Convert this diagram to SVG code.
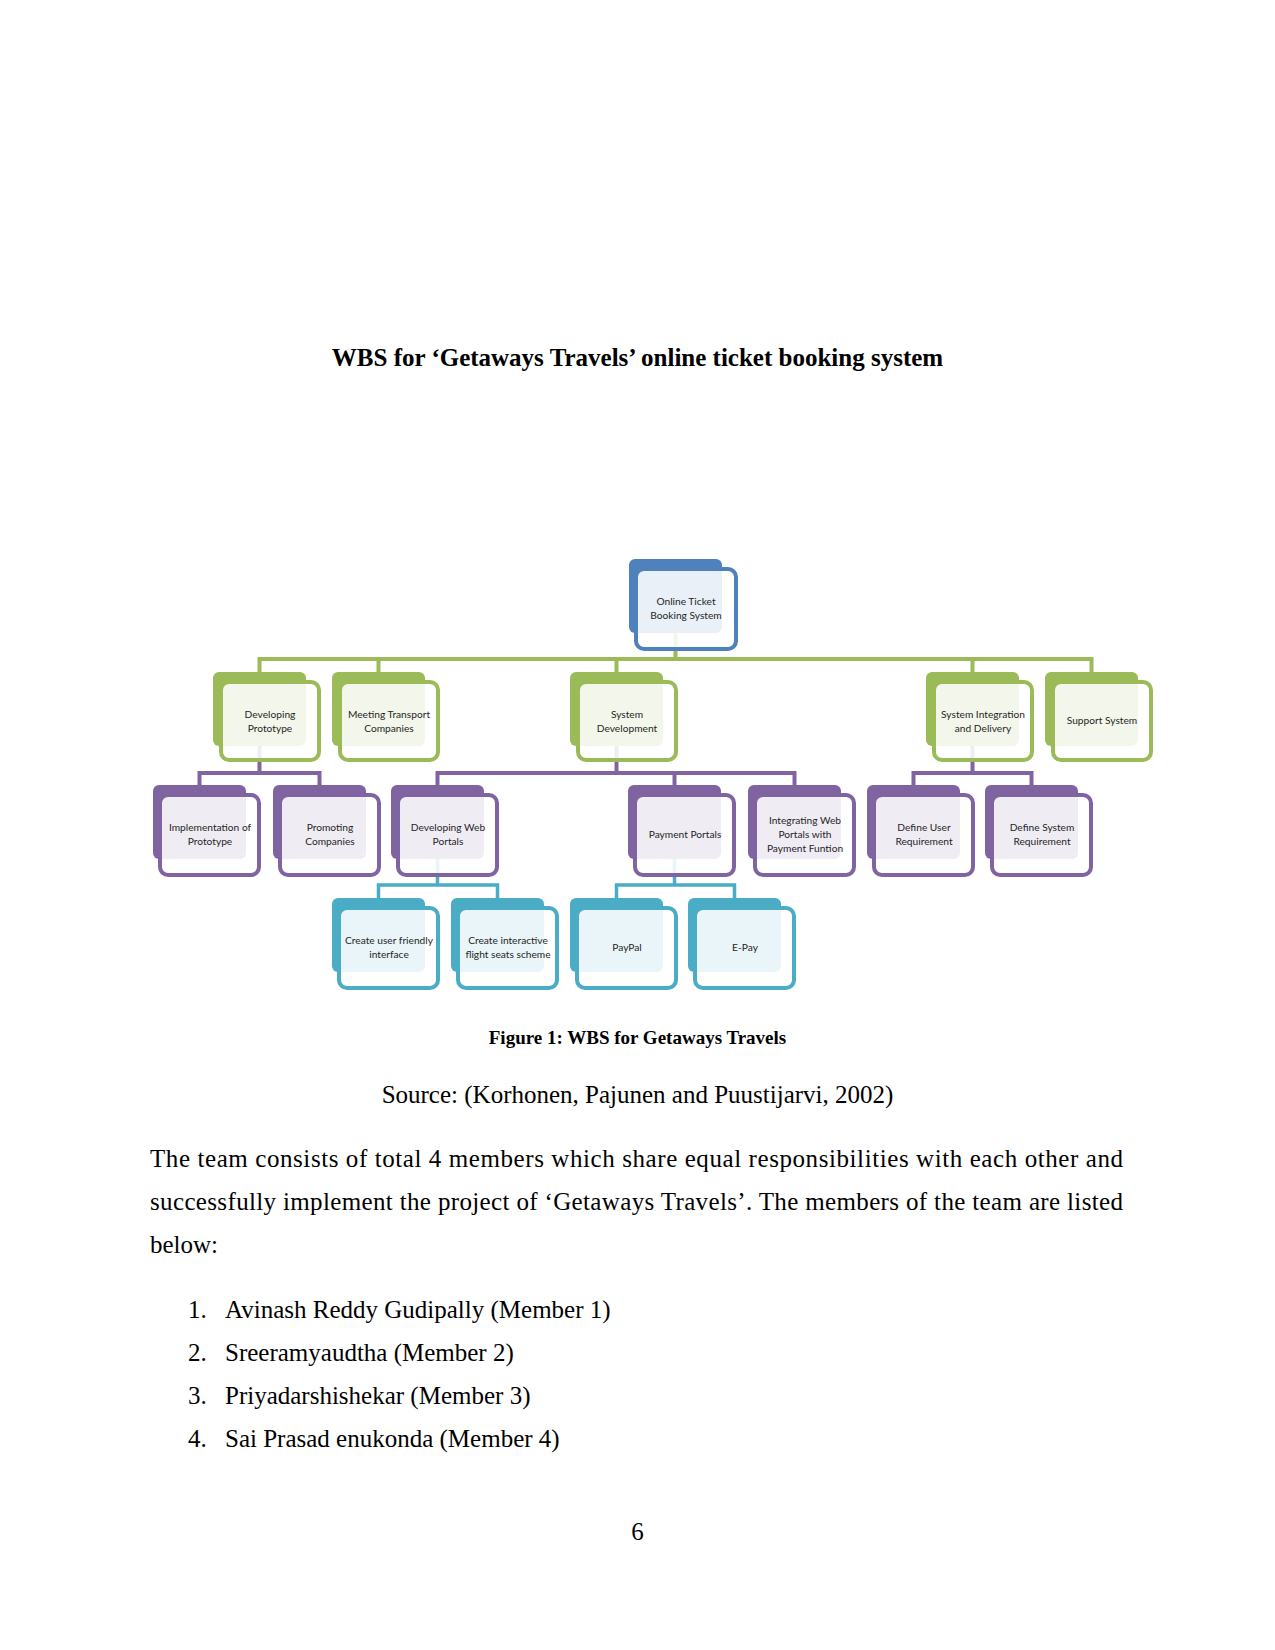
<svg xmlns="http://www.w3.org/2000/svg" width="1275" height="1650" viewBox="0 0 1275 1650">
<style>
.serif{font-family:"Liberation Serif","Times New Roman",serif;fill:#000}
.title{font-size:25px;font-weight:bold;text-anchor:middle}
.cap{font-size:19px;font-weight:bold;text-anchor:middle}
.body{font-size:25px}
.nt{font-family:Lato,"Open Sans",sans-serif;font-size:10.2px;fill:#1f1f1f;text-anchor:middle}
.fr{fill:#fff;fill-opacity:0.88;stroke-width:4}
.blue .bk{fill:#4f81bd}.blue .fr{stroke:#4f81bd}
.green .bk{fill:#9bbb59}.green .fr{stroke:#9bbb59}
.purple .bk{fill:#8064a2}.purple .fr{stroke:#8064a2}
.teal .bk{fill:#4bacc6}.teal .fr{stroke:#4bacc6}
.c{fill:none;stroke-width:4;stroke-linejoin:miter}
.cg{stroke:#9bbb59}.cp{stroke:#8064a2}.ct{stroke:#4bacc6;stroke-width:3.5}
</style>
<rect width="1275" height="1650" fill="#fff"/>
<text class="serif title" x="637.5" y="366">WBS for ‘Getaways Travels’ online ticket booking system</text>

<g id="connectors">
<path class="c cg" d="M675.5 600V659M259.5 672V659H1091.5V672M378.5 659V672M616.5 659V672M972.5 659V672"/>
<path class="c cp" d="M259.5 720V773M199.5 785V773H319.5V785"/>
<path class="c cp" d="M616.5 720V773M437.5 785V773H794.5V785M674.5 773V785"/>
<path class="c cp" d="M972.5 720V773M913.5 785V773H1031.5V785"/>
<path class="c ct" d="M437.5 840V885M378.5 898V885H497.5V898"/>
<path class="c ct" d="M674.5 840V885M616.5 898V885H734.5V898"/>
</g>

<g id="n-root" class="blue" transform="translate(629,559)"><rect class="bk" width="93" height="74" rx="6"/><rect class="fr" x="7" y="10" width="100" height="80" rx="8"/><text class="nt" x="57"><tspan x="57" y="46">Online Ticket</tspan><tspan x="57" y="60">Booking System</tspan></text></g>

<g id="n-devproto" class="green" transform="translate(213,672)"><rect class="bk" width="93" height="74" rx="6"/><rect class="fr" x="8" y="10" width="98" height="78" rx="8"/><text class="nt"><tspan x="57" y="45.5">Developing</tspan><tspan x="57" y="59.5">Prototype</tspan></text></g>
<g id="n-meeting" class="green" transform="translate(332,672)"><rect class="bk" width="93" height="74" rx="6"/><rect class="fr" x="8" y="10" width="98" height="78" rx="8"/><text class="nt"><tspan x="57" y="45.5">Meeting Transport</tspan><tspan x="57" y="59.5">Companies</tspan></text></g>
<g id="n-sysdev" class="green" transform="translate(570,672)"><rect class="bk" width="93" height="74" rx="6"/><rect class="fr" x="8" y="10" width="98" height="78" rx="8"/><text class="nt"><tspan x="57" y="45.5">System</tspan><tspan x="57" y="59.5">Development</tspan></text></g>
<g id="n-sysint" class="green" transform="translate(926,672)"><rect class="bk" width="93" height="74" rx="6"/><rect class="fr" x="8" y="10" width="98" height="78" rx="8"/><text class="nt"><tspan x="57" y="45.5">System Integration</tspan><tspan x="57" y="59.5">and Delivery</tspan></text></g>
<g id="n-support" class="green" transform="translate(1045,672)"><rect class="bk" width="93" height="74" rx="6"/><rect class="fr" x="8" y="10" width="98" height="78" rx="8"/><text class="nt" x="57" y="52">Support System</text></g>

<g id="n-impl" class="purple" transform="translate(153,785)"><rect class="bk" width="93" height="74" rx="6"/><rect class="fr" x="7" y="10" width="99" height="80" rx="8"/><text class="nt"><tspan x="57" y="45.5">Implementation of</tspan><tspan x="57" y="59.5">Prototype</tspan></text></g>
<g id="n-promoting" class="purple" transform="translate(273,785)"><rect class="bk" width="93" height="74" rx="6"/><rect class="fr" x="7" y="10" width="99" height="80" rx="8"/><text class="nt"><tspan x="57" y="45.5">Promoting</tspan><tspan x="57" y="59.5">Companies</tspan></text></g>
<g id="n-devweb" class="purple" transform="translate(391,785)"><rect class="bk" width="93" height="74" rx="6"/><rect class="fr" x="7" y="10" width="99" height="80" rx="8"/><text class="nt"><tspan x="57" y="45.5">Developing Web</tspan><tspan x="57" y="59.5">Portals</tspan></text></g>
<g id="n-payment" class="purple" transform="translate(628,785)"><rect class="bk" width="93" height="74" rx="6"/><rect class="fr" x="7" y="10" width="99" height="80" rx="8"/><text class="nt" x="57" y="52.5">Payment Portals</text></g>
<g id="n-integrating" class="purple" transform="translate(748,785)"><rect class="bk" width="93" height="74" rx="6"/><rect class="fr" x="7" y="10" width="99" height="80" rx="8"/><text class="nt"><tspan x="57" y="38.5">Integrating Web</tspan><tspan x="57" y="52.5">Portals with</tspan><tspan x="57" y="66.5">Payment Funtion</tspan></text></g>
<g id="n-defuser" class="purple" transform="translate(867,785)"><rect class="bk" width="93" height="74" rx="6"/><rect class="fr" x="7" y="10" width="99" height="80" rx="8"/><text class="nt"><tspan x="57" y="45.5">Define User</tspan><tspan x="57" y="59.5">Requirement</tspan></text></g>
<g id="n-defsys" class="purple" transform="translate(985,785)"><rect class="bk" width="93" height="74" rx="6"/><rect class="fr" x="7" y="10" width="99" height="80" rx="8"/><text class="nt"><tspan x="57" y="45.5">Define System</tspan><tspan x="57" y="59.5">Requirement</tspan></text></g>

<g id="n-createuser" class="teal" transform="translate(332,898)"><rect class="bk" width="93" height="74" rx="6"/><rect class="fr" x="7" y="10" width="99" height="80" rx="8"/><text class="nt"><tspan x="57" y="45.5">Create user friendly</tspan><tspan x="57" y="59.5">interface</tspan></text></g>
<g id="n-createinter" class="teal" transform="translate(451,898)"><rect class="bk" width="93" height="74" rx="6"/><rect class="fr" x="7" y="10" width="99" height="80" rx="8"/><text class="nt"><tspan x="57" y="45.5">Create interactive</tspan><tspan x="57" y="59.5">flight seats scheme</tspan></text></g>
<g id="n-paypal" class="teal" transform="translate(570,898)"><rect class="bk" width="93" height="74" rx="6"/><rect class="fr" x="7" y="10" width="99" height="80" rx="8"/><text class="nt" x="57" y="52.5">PayPal</text></g>
<g id="n-epay" class="teal" transform="translate(688,898)"><rect class="bk" width="93" height="74" rx="6"/><rect class="fr" x="7" y="10" width="99" height="80" rx="8"/><text class="nt" x="57" y="52.5">E-Pay</text></g>

<text class="serif cap" x="637.5" y="1044">Figure 1: WBS for Getaways Travels</text>
<text class="serif body" x="637.5" y="1103" text-anchor="middle">Source: (Korhonen, Pajunen and Puustijarvi, 2002)</text>
<text class="serif body" x="150" y="1167" textLength="973" lengthAdjust="spacing">The team consists of total 4 members which share equal responsibilities with each other and</text>
<text class="serif body" x="150" y="1210" textLength="973" lengthAdjust="spacing">successfully implement the project of ‘Getaways Travels’. The members of the team are listed</text>
<text class="serif body" x="150" y="1253">below:</text>
<text class="serif body" x="188" y="1318">1.</text><text class="serif body" x="225" y="1318">Avinash Reddy Gudipally (Member 1)</text>
<text class="serif body" x="188" y="1361">2.</text><text class="serif body" x="225" y="1361">Sreeramyaudtha (Member 2)</text>
<text class="serif body" x="188" y="1404">3.</text><text class="serif body" x="225" y="1404">Priyadarshishekar (Member 3)</text>
<text class="serif body" x="188" y="1447">4.</text><text class="serif body" x="225" y="1447">Sai Prasad enukonda (Member 4)</text>
<text class="serif body" x="637.5" y="1540" text-anchor="middle">6</text>
</svg>
